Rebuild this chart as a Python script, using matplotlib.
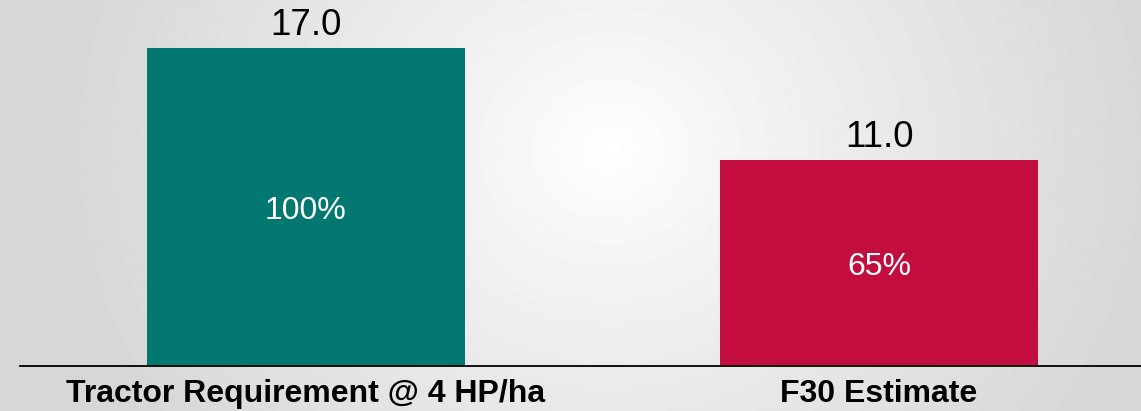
import numpy as np
import matplotlib.pyplot as plt

categories = ["Tractor Requirement @ 4 HP/ha", "F30 Estimate"]
values = [17.0, 11.0]
shares = ["100%", "65%"]
colors = ["#027870", "#C20D3E"]

plt.rcParams['font.family'] = ['Liberation Sans', 'DejaVu Sans']

fig = plt.figure(figsize=(11.41, 4.11), dpi=100)

# soft radial background, light in the middle, grey toward the edges
bg = fig.add_axes([0, 0, 1, 1])
yy, xx = np.mgrid[0:411, 0:1141]
r = np.sqrt(((xx - 610) / 1.0) ** 2 + ((yy - 150) / 0.9) ** 2)
shade = 1.0 - 0.16 * np.clip(r / 560, 0, 1) ** 0.9
bg.imshow(shade, cmap='gray', vmin=0, vmax=1, aspect='auto', extent=[0, 1, 0, 1])
bg.axis('off')

ax = fig.add_axes([20 / 1141, 45 / 411, 1 - 20 / 1141, 366 / 411])
ax.patch.set_alpha(0)
x = np.arange(len(values))
bars = ax.bar(x, values, width=0.555, color=colors)

for b, v, s in zip(bars, values, shares):
    cx = b.get_x() + b.get_width() / 2
    ax.annotate(f"{v:.1f}", (cx, v), xytext=(0, 9.5), textcoords='offset points',
                ha='center', va='baseline', fontsize=26.5)
    ax.annotate(s, (cx, v / 2), xytext=(0, -2.5), textcoords='offset points',
                ha='center', va='center', fontsize=23, color='white')

ax.set_xlim(-0.499, 1.457)
ax.set_ylim(0, 19.57)
ax.set_yticks([])
ax.set_xticks(x)
ax.set_xticklabels(categories, fontsize=23, fontweight='bold')
ax.tick_params(axis='x', length=0, pad=9.5)
for side in ['top', 'left', 'right']:
    ax.spines[side].set_visible(False)
ax.spines['bottom'].set_linewidth(1.3)

fig.savefig('out.png', dpi=100)
